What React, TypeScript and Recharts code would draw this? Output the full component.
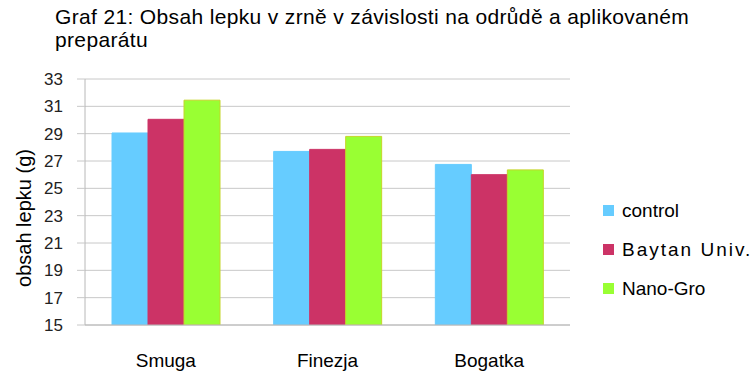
import { Bar, BarChart, CartesianGrid, XAxis, YAxis } from "recharts";

const VARIETIES = ["Smuga", "Finezja", "Bogatka"];
const CONTROL = [29.05, 27.7, 26.75];
const BAYTAN = [30.05, 27.85, 26.0];
const NANO = [31.45, 28.8, 26.35];
const Y_TICKS = [15, 17, 19, 21, 23, 25, 27, 29, 31, 33];

const SERIES = [
  { key: "control", label: "control", color: "#66ccff", stroke: "#66ccff", spacing: 0 },
  { key: "baytan", label: "Baytan Univ.", color: "#cc3366", stroke: "#cc3366", spacing: 2 },
  { key: "nano", label: "Nano-Gro", color: "#99ff33", stroke: "#c4d52a", spacing: 0 },
];

const FONT = "'Liberation Sans', Arial, sans-serif";
const AXIS = { fontFamily: FONT, fontSize: 17, fill: "#222" };

const data = VARIETIES.map((v, i) => ({
  name: v,
  control: CONTROL[i],
  baytan: BAYTAN[i],
  nano: NANO[i],
}));

export default function App() {
  return (
    <div style={{ position: "absolute", left: 0, top: 0, width: 753, height: 381, background: "#fff", fontFamily: FONT }}>
      <div
        style={{
          position: "absolute",
          left: 55,
          top: 5,
          fontSize: 21,
          lineHeight: "23px",
          letterSpacing: 0.35,
          color: "#000",
          whiteSpace: "nowrap",
        }}
      >
        Graf 21: Obsah lepku v zrně v závislosti na odrůdě a aplikovaném
        <br />
        preparátu
      </div>
      <BarChart
        width={753}
        height={381}
        data={data}
        margin={{ top: 79, right: 183, left: 0, bottom: 0 }}
        barCategoryGap={27}
        barGap={0}
      >
        <CartesianGrid stroke="#c8c8c8" vertical={false} />
        <XAxis
          dataKey="name"
          height={56}
          tick={{ ...AXIS, fontSize: 19, fill: "#000" }}
          tickLine={false}
          tickSize={0}
          tickMargin={29}
          axisLine={{ stroke: "#b8b8b8" }}
        />
        <YAxis
          width={85}
          domain={[15, 33]}
          ticks={Y_TICKS}
          interval={0}
          allowDataOverflow
          tick={AXIS}
          tickSize={8}
          tickMargin={14}
          tickLine={{ stroke: "#c8c8c8" }}
          axisLine={{ stroke: "#b8b8b8" }}
          label={{
            value: "obsah lepku (g)",
            angle: -90,
            position: "insideLeft",
            offset: 24,
            dy: 16,
            style: { fontFamily: FONT, fontSize: 20, fill: "#000", textAnchor: "middle" },
          }}
        />
        {SERIES.map((s) => (
          <Bar key={s.key} dataKey={s.key} name={s.label} fill={s.color} stroke={s.stroke} isAnimationActive={false} />
        ))}
      </BarChart>
      <div style={{ position: "absolute", left: 603, top: 191 }}>
        {SERIES.map((s) => (
          <div key={s.key} style={{ display: "flex", alignItems: "center", height: 39, fontSize: 19, color: "#000" }}>
            <span style={{ display: "inline-block", width: 11, height: 11, background: s.color, marginRight: 8 }} />
            <span style={{ letterSpacing: s.spacing }}>{s.label}</span>
          </div>
        ))}
      </div>
    </div>
  );
}
